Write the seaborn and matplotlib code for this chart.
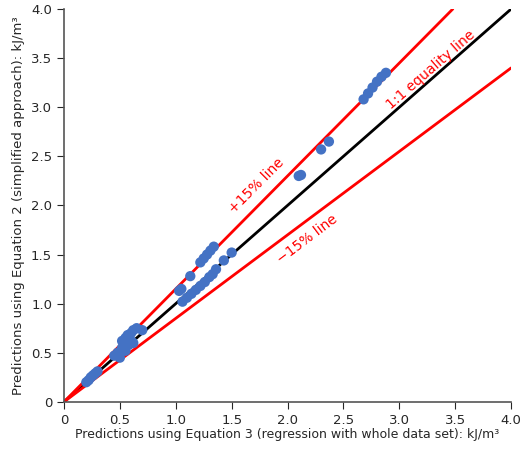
import numpy as np
import pandas as pd
import matplotlib
matplotlib.use("Agg")
import matplotlib.pyplot as plt
import seaborn as sns

# data (eq3 -> x, eq2 -> y)
eq3 = [0.20, 0.22, 0.24, 0.26, 0.28, 0.30,
       0.45, 0.48, 0.50, 0.52, 0.55, 0.58, 0.60, 0.62,
       0.52, 0.55, 0.57, 0.60, 0.62, 0.65, 0.70,
       1.03, 1.05, 1.13,
       1.06, 1.10, 1.14, 1.18, 1.22, 1.26, 1.30, 1.33, 1.36,
       1.22, 1.25, 1.28, 1.31, 1.34,
       1.43, 1.50,
       2.10, 2.12, 2.30, 2.37,
       2.68, 2.72, 2.76, 2.80, 2.84, 2.88]
eq2 = [0.20, 0.22, 0.25, 0.27, 0.29, 0.31,
       0.47, 0.50, 0.45, 0.55, 0.52, 0.58, 0.62, 0.60,
       0.62, 0.65, 0.68, 0.70, 0.73, 0.75, 0.73,
       1.13, 1.15, 1.28,
       1.02, 1.06, 1.10, 1.14, 1.18, 1.22, 1.27, 1.30, 1.35,
       1.42, 1.46, 1.50, 1.54, 1.58,
       1.44, 1.52,
       2.30, 2.31, 2.57, 2.65,
       3.08, 3.14, 3.20, 3.26, 3.31, 3.35]

df = pd.DataFrame({"eq3": eq3, "eq2": eq2})

sns.set_style("ticks")
fig = plt.figure(figsize=(5.2, 4.49), dpi=100)
ax = fig.add_axes([0.123, 0.105, 0.86, 0.875])

ax.plot([0, 4], [0, 4], color="black", lw=2)
ax.plot([0, 4 / 1.15], [0, 4], color="red", lw=2)
ax.plot([0, 4], [0, 3.4], color="red", lw=2)
sns.scatterplot(data=df, x="eq3", y="eq2", color="#4472c4", s=55,
                edgecolor="none", ax=ax, zorder=3)

ax.text(1.72, 2.2, "+15% line", color="red", rotation=45, fontsize=10,
        ha="center", va="center")
ax.text(3.28, 3.38, "1:1 equality line", color="red", rotation=41, fontsize=10,
        ha="center", va="center")
ax.text(2.18, 1.66, "\u221215% line", color="red", rotation=37, fontsize=10,
        ha="center", va="center")

ax.set_xlim(0, 4)
ax.set_ylim(0, 4)
ax.set_xticks(np.arange(0, 4.01, 0.5))
ax.set_yticks(np.arange(0, 4.01, 0.5))
ax.set_xticklabels(["0", "0.5", "1.0", "1.5", "2.0", "2.5", "3.0", "3.5", "4.0"])
ax.set_yticklabels(["0", "0.5", "1.0", "1.5", "2.0", "2.5", "3.0", "3.5", "4.0"])
ax.tick_params(labelsize=9.5, direction="out", length=5)
ax.set_xlabel("Predictions using Equation 3 (regression with whole data set): kJ/m\u00b3",
              fontsize=9, labelpad=1)
ax.set_ylabel("Predictions using Equation 2 (simplified approach): kJ/m\u00b3",
              fontsize=9.5, labelpad=4)
for s in ["top", "right"]:
    ax.spines[s].set_visible(False)
for s in ["left", "bottom"]:
    ax.spines[s].set_color("#555555")
    ax.spines[s].set_linewidth(1.2)

fig.savefig("out.png", dpi=100)
